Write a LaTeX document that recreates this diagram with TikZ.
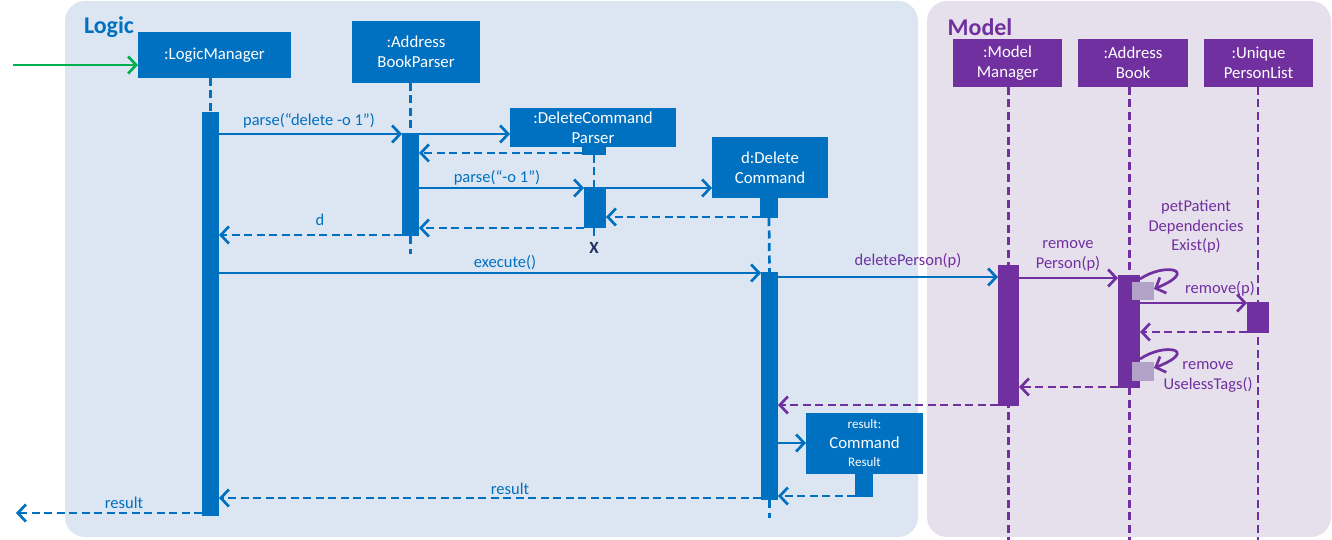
\documentclass[tikz,border=0pt]{standalone}
\usepackage{fontspec}
\setmainfont{Carlito}
\usetikzlibrary{arrows.meta}
\definecolor{lblue}{HTML}{0070C0}
\definecolor{mpurple}{HTML}{7030A0}
\definecolor{logicbg}{HTML}{DCE6F2}
\definecolor{modelbg}{HTML}{E6E0EC}
\definecolor{nested}{HTML}{B3A2C7}
\definecolor{startgreen}{HTML}{00B050}
\definecolor{xmark}{HTML}{1F2F5F}
\tikzset{
  obj/.style={fill=#1, text=white, inner sep=0pt, outer sep=0pt, align=center,
    font=\fontsize{16.8}{20}\selectfont},
  bar/.style={fill=#1, inner sep=0pt, outer sep=0pt},
  msg/.style={line width=2.7pt, -{Straight Barb[length=8pt,width=17pt]}},
  ret/.style={msg, dash pattern=on 8pt off 4.5pt},
  life/.style={line width=2.7pt, dash pattern=on 8pt off 4.5pt},
  lbl/.style={inner sep=0pt, align=center, font=\fontsize{16.5}{19.5}\selectfont},
  panel/.style={fill=#1, draw=none, rounded corners=20pt},
  title/.style={inner sep=0pt, font=\fontsize{24}{26}\selectfont\bfseries}
}
\begin{document}
\begin{tikzpicture}[x=1pt,y=-1pt]
\useasboundingbox (0,0) rectangle (1332,540);

% component panels
\fill[panel=logicbg] (65,1) rectangle (918,537);
\fill[panel=modelbg] (927,1) rectangle (1331,537);
\node[title, text=lblue] (logicT) at (109,27) {Logic};
\node[title, text=mpurple] (modelT) at (980,27) {Model};

% participants
\node[obj=lblue, minimum width=153, minimum height=46] (lm) at (214.5,55) {:LogicManager};
\node[obj=lblue, minimum width=128, minimum height=62] (abp) at (416,52) {:Address\\BookParser};
\node[obj=lblue, minimum width=166, minimum height=39] (dcp) at (593,127.5) {:DeleteCommand\\Parser};
\node[obj=lblue, minimum width=116, minimum height=61] (dc) at (770,167.5) {d:Delete\\Command};
\node[obj=lblue, minimum width=117, minimum height=61] (res) at (864.5,443.5)
  {{\fontsize{13}{18}\selectfont result:}\\Command\\[-2pt]{\fontsize{13}{16}\selectfont Result}};
\node[obj=mpurple, minimum width=109, minimum height=48] (mm) at (1007.5,63) {:Model\\Manager};
\node[obj=mpurple, minimum width=110, minimum height=48] (ab) at (1133,63) {:Address\\Book};
\node[obj=mpurple, minimum width=109, minimum height=48] (up) at (1258.5,63) {:Unique\\PersonList};

% lifeline stubs under created objects
\node[bar=lblue, minimum width=24, minimum height=8] (dcpStub) at (594,151) {};
\node[bar=lblue, minimum width=18, minimum height=20] (dcStub) at (769,208) {};
\node[bar=lblue, minimum width=18, minimum height=23] (resStub) at (864,485.5) {};

% lifeline end points
\coordinate (abpEnd) at (410.5,254);
\coordinate (dcpEnd) at (594,238);
\coordinate (dcEnd) at (769.5,518);
\coordinate (mmEnd) at (1008.5,540);
\coordinate (abEnd) at (1129.5,540);
\coordinate (upEnd) at (1258,540);
\node[inner sep=0pt, text=xmark, font=\fontsize{17}{17}\selectfont\bfseries] (dcpX) at (594,248) {X};

% activation bars
\node[bar=lblue, minimum width=17, minimum height=404] (lmA) at (210.5,314) {};
\node[bar=lblue, minimum width=17, minimum height=103] (abpA) at (410.5,184.5) {};
\node[bar=lblue, minimum width=22, minimum height=41] (dcpA) at (595,207.5) {};
\node[bar=lblue, minimum width=17, minimum height=228] (dcA) at (769.5,386) {};

% lifelines
\draw[life, lblue] (lmA.north |- lm.south) -- (lmA.north);
\draw[life, lblue] (abpA.north |- abp.south) -- (abpA.north);
\draw[life, lblue] (abpA.south) -- (abpEnd);
\draw[life, lblue] (dcpStub.south) -- (dcpA.north -| dcpStub.south);
\draw[life, lblue] (dcpA.south -| dcpStub.south) -- (dcpEnd);
\draw[life, lblue] (dcStub.south) -- (dcA.north);
\draw[life, lblue] (dcA.south) -- (dcEnd);
\draw[life, mpurple] (mmEnd |- mm.south) -- (mmEnd);
\draw[life, mpurple] (abEnd |- ab.south) -- (abEnd);
\draw[life, mpurple] (upEnd |- up.south) -- (upEnd);

% model activation bars (over the lifelines)
\node[bar=mpurple, minimum width=21, minimum height=141] (mmA) at (1008.5,335.5) {};
\node[bar=mpurple, minimum width=22, minimum height=113] (abA) at (1129,331.5) {};
\node[bar=mpurple, minimum width=22, minimum height=31] (upA) at (1258,317.5) {};
\node[bar=nested, minimum width=22, minimum height=18] (nest1) at (1143,291) {};
\node[bar=nested, minimum width=22, minimum height=19] (nest2) at (1143,371.5) {};

% messages in Logic
\coordinate (entry) at (13,65);
\draw[msg, startgreen] (entry) -- (lm.west |- entry);
\draw[msg, lblue] (lmA.east |- 0,134) -- (abpA.west |- 0,134);
\node[lbl, text=lblue] (l1) at (309,121) {parse(“delete -o 1”)};
\draw[msg, lblue] (abpA.east |- 0,134) -- (dcp.west |- 0,134);
\draw[ret, lblue] (dcpStub.west |- 0,153) -- (abpA.east |- 0,153);
\draw[msg, lblue] (abpA.east |- 0,188) -- (dcpA.west |- 0,188);
\node[lbl, text=lblue] (l2) at (497,178) {parse(“-o 1”)};
\draw[msg, lblue] (dcpA.east |- 0,188) -- (dc.west |- 0,188);
\draw[ret, lblue] (dcStub.west |- 0,217) -- (dcpA.east |- 0,217);
\draw[ret, lblue] (dcpA.west |- 0,228) -- (abpA.east |- 0,228);
\draw[ret, lblue] (abpA.west |- 0,235) -- (lmA.east |- 0,235);
\node[lbl, text=lblue] (l3) at (320,220) {d};
\draw[msg, lblue] (lmA.east |- 0,273) -- (dcA.west |- 0,273);
\node[lbl, text=lblue] (l4) at (505,263) {execute()};

% messages into Model
\draw[msg, lblue] (dcA.east |- 0,277) -- (mmA.west |- 0,277);
\node[lbl, text=mpurple] (l5) at (908,261) {deletePerson(p)};
\draw[msg, mpurple] (mmA.east |- 0,278) -- (abA.west |- 0,278);
\node[lbl, text=mpurple] (l6) at (1068,256) {remove\\Person(p)};
\draw[msg, mpurple] (abA.east |- 0,279) .. controls (1165,262) and (1200,270) .. (nest1.east |- 0,289);
\node[lbl, text=mpurple] (l7) at (1196,227) {petPatient\\Dependencies\\Exist(p)};
\draw[msg, mpurple] (abA.east |- 0,303) -- (upA.west |- 0,303);
\node[lbl, text=mpurple] (l8) at (1220,289) {remove(p)};
\draw[ret, mpurple] (upA.west |- 0,332) -- (abA.east |- 0,332);
\draw[msg, mpurple] (abA.east |- 0,359) .. controls (1165,342) and (1200,350) .. (nest2.east |- 0,368);
\node[lbl, text=mpurple] (l9) at (1208,377) {remove\\UselessTags()};
\draw[ret, mpurple] (abA.west |- 0,387) -- (mmA.east |- 0,387);
\draw[ret, mpurple] (mmA.west |- 0,405) -- (dcA.east |- 0,405);

% result creation and returns
\draw[msg, lblue] (dcA.east |- 0,443) -- (res.west |- 0,443);
\draw[ret, lblue] (resStub.west |- 0,496) -- (dcA.east |- 0,496);
\draw[ret, lblue] (dcA.west |- 0,498) -- (lmA.east |- 0,498);
\node[lbl, text=lblue] (l10) at (510,489) {result};
\coordinate (exit) at (16,513);
\draw[ret, lblue] (lmA.west |- exit) -- (exit);
\node[lbl, text=lblue] (l11) at (124,503) {result};
\end{tikzpicture}
\end{document}
